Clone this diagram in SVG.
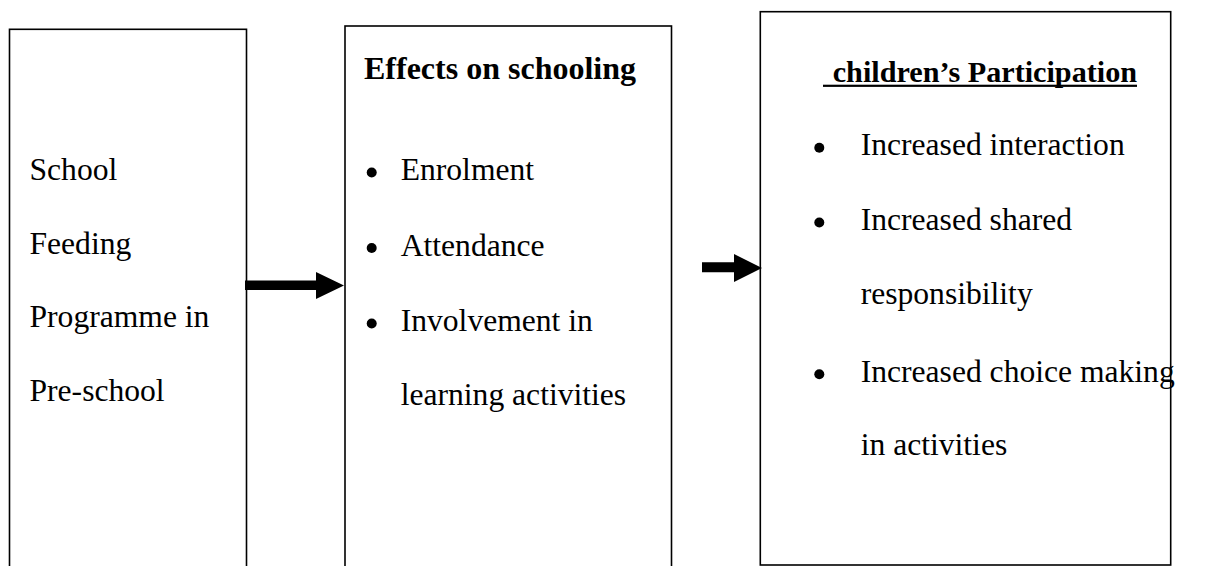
<svg xmlns="http://www.w3.org/2000/svg" width="1205" height="566" viewBox="0 0 1205 566">
  <style>
    .box { fill: #ffffff; stroke: #000000; stroke-width: 1.6; }
    .txt { font-family: "Liberation Serif", "Times New Roman", serif; font-size: 31.6px; fill: #000000; }
    .bold { font-weight: bold; font-size: 32px; }
    .title { font-weight: bold; font-size: 30.2px; }
    .dot { fill: #000000; }
    .shaft { fill: #000000; }
  </style>
  <rect width="1205" height="566" fill="#ffffff"/>

  <!-- Left box: the programme -->
  <g id="node-programme">
    <rect class="box" x="9.5" y="29.3" width="237" height="560"/>
    <text class="txt" x="29.5" y="180">School</text>
    <text class="txt" x="29.5" y="253.5">Feeding</text>
    <text class="txt" x="29.5" y="327">Programme in</text>
    <text class="txt" x="29.5" y="400.5">Pre-school</text>
  </g>

  <!-- Middle box: effects on schooling -->
  <g id="node-effects">
    <rect class="box" x="345" y="26" width="326.5" height="560"/>
    <text class="txt bold" x="364" y="78.5">Effects on schooling</text>
    <circle class="dot" cx="371.7" cy="172.5" r="5"/>
    <text class="txt" x="400.7" y="180">Enrolment</text>
    <circle class="dot" cx="371.7" cy="248" r="5"/>
    <text class="txt" x="400.7" y="255.7">Attendance</text>
    <circle class="dot" cx="371.7" cy="323.5" r="5"/>
    <text class="txt" x="400.7" y="331">Involvement in</text>
    <text class="txt" x="400.7" y="404.5">learning activities</text>
  </g>

  <!-- Right box: children's participation -->
  <g id="node-participation">
    <rect class="box" x="760.3" y="11.7" width="410.4" height="553.3"/>
    <text class="txt title" x="832.7" y="81.5">children’s Participation</text>
    <rect x="823" y="84.7" width="314" height="2.2" fill="#000000"/>
    <circle class="dot" cx="819.3" cy="147.7" r="5"/>
    <text class="txt" x="860.7" y="155">Increased interaction</text>
    <circle class="dot" cx="819.3" cy="222.5" r="5"/>
    <text class="txt" x="860.7" y="230">Increased shared</text>
    <text class="txt" x="860.7" y="304.3">responsibility</text>
    <circle class="dot" cx="819.3" cy="374.2" r="5"/>
    <text class="txt" x="860.7" y="381.7">Increased choice making</text>
    <text class="txt" x="860.7" y="455">in activities</text>
  </g>

  <!-- Connectors: block arrows between the stages -->
  <g id="connectors">
    <polygon class="shaft" points="245,280.5 316,280.5 316,272 344,285.5 316,299 316,290 245,290"/>
    <polygon class="shaft" points="702,262.2 734,262.2 734,254 762,268 734,282 734,272.3 702,272.3"/>
  </g>
</svg>
